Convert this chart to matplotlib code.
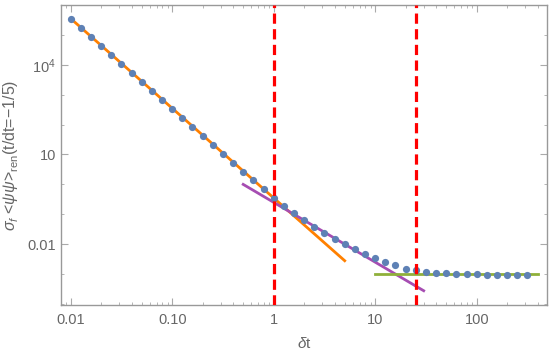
import matplotlib.pyplot as plt
import matplotlib.ticker as mticker

plt.rcParams['font.family'] = ['Liberation Sans', 'DejaVu Sans']
plt.rcParams['mathtext.fontset'] = 'custom'
plt.rcParams['mathtext.rm'] = 'Liberation Sans'
plt.rcParams['mathtext.it'] = 'Liberation Sans:italic'

# data
dt = [0.01, 0.0126, 0.0158, 0.02, 0.0251, 0.0316, 0.0398, 0.0501, 0.0631, 0.0794,
      0.1, 0.126, 0.158, 0.2, 0.251, 0.316, 0.398, 0.501, 0.631, 0.794,
      1.0, 1.26, 1.58, 2.0, 2.51, 3.16, 3.98, 5.01, 6.31, 7.94,
      10.0, 12.6, 15.8, 20.0, 25.1, 31.6, 39.8, 50.1, 63.1, 79.4,
      100.0, 126.0, 158.0, 200.0, 251.0, 316.0]
sigma = [3.4e5, 1.7e5, 8.6e4, 4.4e4, 2.15e4, 1.08e4, 5.4e3, 2.7e3, 1.35e3, 680,
         340, 170, 85, 42, 21, 10.5, 5.2, 2.65, 1.38, 0.70,
         0.35, 0.19, 0.11, 0.063, 0.039, 0.0245, 0.0155, 0.0102, 0.0068, 0.0047,
         0.0034, 0.0025, 0.0020, 0.00151, 0.00141, 0.00120, 0.00112, 0.00112, 0.00102, 0.00102,
         0.00102, 0.00096, 0.00096, 0.00096, 0.00096, 0.00096]

# fitted power laws (end points)
fit1_x = [0.01, 5.0]
fit1_y = [3.5e5, 2.8e-3]
fit2_x = [0.5, 30.0]
fit2_y = [1.0, 2.78e-4]
fit3_x = [10.0, 400.0]
fit3_y = [1.0e-3, 1.0e-3]
vlines = [1.0, 25.0]

xticks = [0.01, 0.1, 1, 10, 100]
xlabels = ['0.01', '0.10', '1', '10', '100']
yticks = [0.01, 10, 1e4]
ylabels = ['0.01', '10', r'$10^4$']

gray = '#666666'

fig = plt.figure(figsize=(5.54, 3.55), dpi=100)
ax = fig.add_axes([0.110, 0.141, 0.877, 0.845])

ax.plot(fit1_x, fit1_y, color='#FF8000', lw=2.0, zorder=2)
ax.plot(fit2_x, fit2_y, color='#A64DB2', lw=2.0, zorder=2)
ax.plot(fit3_x, fit3_y, color='#8FB03A', lw=2.0, zorder=2)
ax.plot(dt, sigma, 'o', color='#5E81B5', ms=5.2, mec='none', zorder=3)
for v in vlines:
    ax.axvline(v, color='#FF0000', lw=2.3, dashes=(3.2, 1.7), zorder=4)

ax.set_xscale('log')
ax.set_yscale('log')
ax.set_xlim(0.0080, 490)
ax.set_ylim(9.3e-5, 1e6)

ax.xaxis.set_major_locator(mticker.FixedLocator(xticks))
ax.xaxis.set_major_formatter(mticker.FixedFormatter(xlabels))
ax.xaxis.set_minor_locator(mticker.LogLocator(base=10, subs=range(2, 10), numticks=20))
ax.xaxis.set_minor_formatter(mticker.NullFormatter())

ymin = [1e-4, 1e-3, 0.1, 1, 100, 1000, 1e5, 1e6]
ax.yaxis.set_major_locator(mticker.FixedLocator(yticks))
ax.yaxis.set_major_formatter(mticker.FixedFormatter(ylabels))
ax.yaxis.set_minor_locator(mticker.FixedLocator(ymin))
ax.yaxis.set_minor_formatter(mticker.NullFormatter())

for s in ax.spines.values():
    s.set_color('#999999')
    s.set_linewidth(1.0)
ax.tick_params(which='both', direction='in', top=True, right=True,
               color='#aaaaaa', labelcolor=gray, labelsize=10.5)
ax.tick_params(which='major', length=5, width=0.8)
ax.tick_params(which='minor', length=2.5, width=0.6)
ax.tick_params(axis='x', pad=6)

ax.set_xlabel(r'$\delta$t', color=gray, fontsize=11, labelpad=6)
ax.set_ylabel(r'$\sigma_f$ <$\overline{\psi}\psi$>$_{\mathrm{ren}}$(t/dt=−1/5)',
              color=gray, fontsize=11.5, labelpad=4)

fig.savefig('out.png', dpi=100)
